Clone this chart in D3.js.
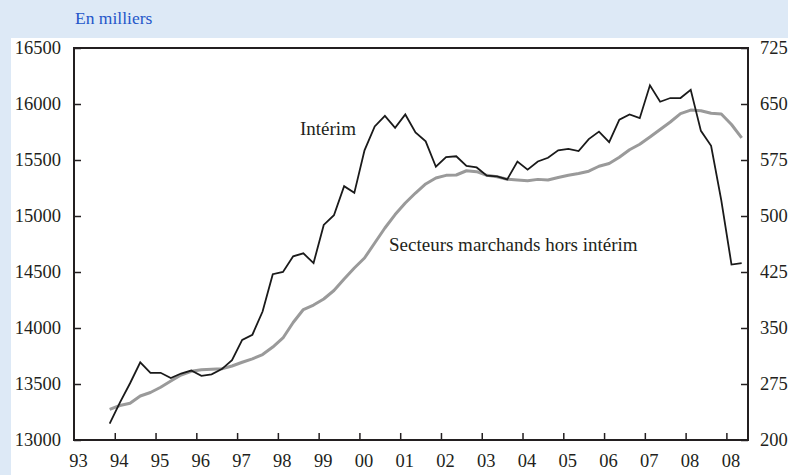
<!DOCTYPE html>
<html><head><meta charset="utf-8">
<script src="https://cdn.jsdelivr.net/npm/d3@7"></script>
<style>
html,body{margin:0;padding:0;background:#dde9f6;}
svg{display:block;}
text{font-family:"Liberation Serif","Times New Roman",serif;}
</style></head>
<body>
<svg id="chart" width="788" height="475"></svg>
<script>
// Quarters (categories)
const quarters = [
 "1993T4",
 "1994T1","1994T2","1994T3","1994T4",
 "1995T1","1995T2","1995T3","1995T4",
 "1996T1","1996T2","1996T3","1996T4",
 "1997T1","1997T2","1997T3","1997T4",
 "1998T1","1998T2","1998T3","1998T4",
 "1999T1","1999T2","1999T3","1999T4",
 "2000T1","2000T2","2000T3","2000T4",
 "2001T1","2001T2","2001T3","2001T4",
 "2002T1","2002T2","2002T3","2002T4",
 "2003T1","2003T2","2003T3","2003T4",
 "2004T1","2004T2","2004T3","2004T4",
 "2005T1","2005T2","2005T3","2005T4",
 "2006T1","2006T2","2006T3","2006T4",
 "2007T1","2007T2","2007T3","2007T4",
 "2008T1","2008T2","2008T3","2008T4",
 "2009T1","2009T2"
];
// Intérim (milliers, axe de droite)
const interim = [
 222,
 250,276,304,290,
 290,283,289,293,
 286,288,295,307,
 334,341,372,422,
 425,446,450,437,
 488,501,540,531,
 588,620,634,618,
 636,612,600,566,
 579,580,567,565,
 554,553,549,573,
 562,573,578,588,
 590,587,603,613,
 599,629,636,631,
 675,653,658,658,
 669,614,594,521,
 435,437
];
// Secteurs marchands hors intérim (milliers, axe de gauche)
const secteurs = [
 13274,
 13308,13328,13393,13424,
 13471,13527,13580,13613,
 13628,13632,13636,13661,
 13694,13725,13763,13830,
 13911,14049,14165,14205,
 14259,14335,14438,14536,
 14625,14759,14893,15013,
 15116,15205,15286,15339,
 15363,15366,15404,15396,
 15363,15351,15328,15321,
 15315,15327,15321,15344,
 15364,15380,15400,15444,
 15469,15525,15592,15641,
 15705,15773,15839,15914,
 15946,15940,15917,15911,
 15817,15697
];
const leftTicks = [13000,13500,14000,14500,15000,15500,16000,16500];
const rightTicks = [200,275,350,425,500,575,650,725];
const yearTickValues = [1994,1995,1996,1997,1998,1999,2000,2001,2002,2003,2004,2005,2006,2007,2008,2009];
const yearLabelValues = [1993,1994,1995,1996,1997,1998,1999,2000,2001,2002,2003,2004,2005,2006,2007,2008,2009];
const yearLabels = ["93","94","95","96","97","98","99","00","01","02","03","04","05","06","07","08","08"];

const svg = d3.select("#chart");
// white panel
svg.append("rect").attr("x",11).attr("y",38).attr("width",777).attr("height",437).attr("fill","#ffffff");
svg.append("text").attr("x",75).attr("y",24).attr("font-size",17.5).attr("fill","#2456c9").text("En milliers");

const L=74,R=748,T=48,B=440;
const x = d3.scaleLinear().domain([1993,2009.53]).range([L,R]);
const yL = d3.scaleLinear().domain([13000,16500]).range([B,T]);
const yR = d3.scaleLinear().domain([200,725]).range([B,T]);
const qx = q => { const yr=+q.slice(0,4), n=+q.slice(5); return yr+(n-1)/4+0.125; };

const axisColor="#231f20";
// frame
svg.append("rect").attr("x",L).attr("y",T).attr("width",R-L).attr("height",B-T)
  .attr("fill","none").attr("stroke",axisColor).attr("stroke-width",2);

const fs=18.5;
const gl = svg.append("g").attr("transform",`translate(${L},0)`)
  .call(d3.axisLeft(yL).tickValues(leftTicks).tickSizeInner(-7).tickSizeOuter(0).tickPadding(13).tickFormat(d3.format("d")));
const gr = svg.append("g").attr("transform",`translate(${R},0)`)
  .call(d3.axisRight(yR).tickValues(rightTicks).tickSizeInner(-7).tickSizeOuter(0).tickPadding(12).tickFormat(d3.format("d")));
const gb = svg.append("g").attr("transform",`translate(0,${B})`)
  .call(d3.axisBottom(x).tickValues(yearTickValues).tickSizeInner(-7).tickSizeOuter(0).tickFormat(""));
const gb2 = svg.append("g").attr("transform",`translate(4,${B})`)
  .call(d3.axisBottom(x).tickValues(yearLabelValues).tickSize(0).tickPadding(14).tickFormat((d,i)=>yearLabels[i]));
gb2.selectAll("text").attr("dy","0.71em");
[gl,gr,gb,gb2].forEach(g=>{
  g.select(".domain").remove();
  g.selectAll("line").attr("stroke",axisColor).attr("stroke-width",1.5);
  g.selectAll("text").attr("font-size",fs).attr("fill","#231f20").attr("font-family","Liberation Serif, serif");
});

const lineS = d3.line().x((d,i)=>x(qx(quarters[i]))).y(d=>yL(d));
const lineI = d3.line().x((d,i)=>x(qx(quarters[i]))).y(d=>yR(d));
svg.append("path").datum(secteurs).attr("d",lineS).attr("fill","none")
  .attr("stroke","#9a9a9a").attr("stroke-width",3).attr("stroke-linejoin","round");
svg.append("path").datum(interim).attr("d",lineI).attr("fill","none")
  .attr("stroke","#1a1a1a").attr("stroke-width",1.8).attr("stroke-linejoin","miter");

svg.append("text").attr("x",300).attr("y",135).attr("font-size",19).attr("fill","#231f20").text("Intérim");
svg.append("text").attr("x",389).attr("y",251).attr("font-size",19).attr("fill","#231f20").text("Secteurs marchands hors intérim");
</script>
</body></html>
